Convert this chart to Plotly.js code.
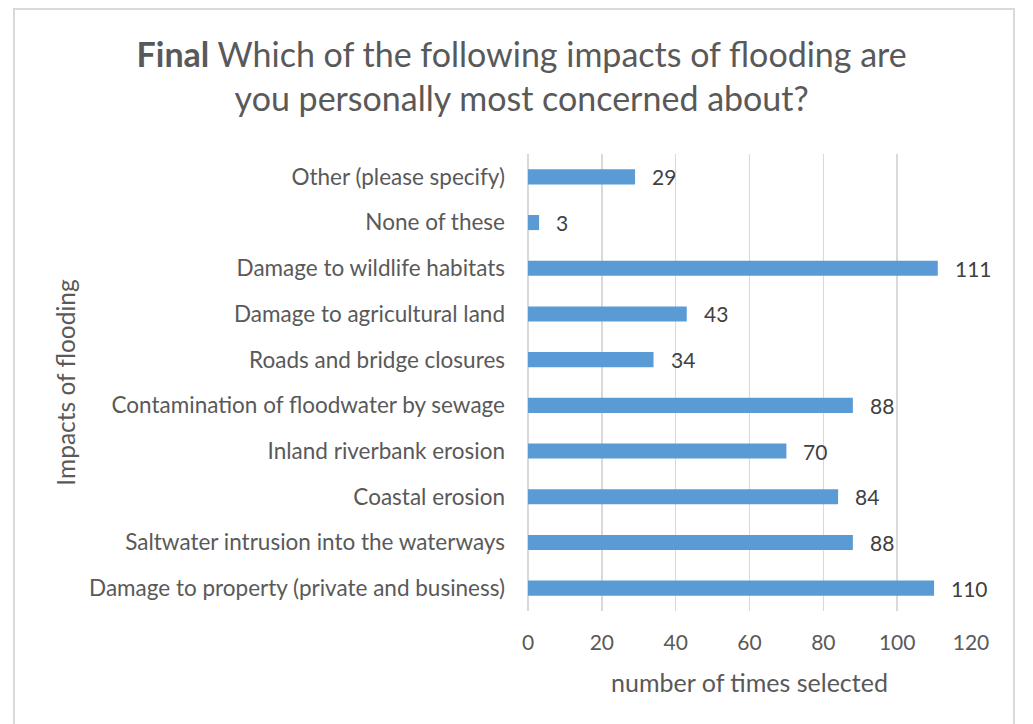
<!DOCTYPE html>
<html>
<head>
<meta charset="utf-8">
<script src="https://cdn.plot.ly/plotly-3.0.1.min.js"></script>
<style>html,body{margin:0;padding:0;background:#fff;}#chart{width:1033px;height:724px;}</style>
</head>
<body>
<div id="chart"></div>
<script>
// Data (bottom to top, as drawn)
const categories = [
  "Damage to property (private and business)",
  "Saltwater intrusion into the waterways",
  "Coastal erosion",
  "Inland riverbank erosion",
  "Contamination of floodwater by sewage",
  "Roads and bridge closures",
  "Damage to agricultural land",
  "Damage to wildlife habitats",
  "None of these",
  "Other (please specify)"
];
const counts = [110, 88, 84, 70, 88, 34, 43, 111, 3, 29];
const xTickValues = [0, 20, 40, 60, 80, 100, 120];

const FONT = "Lato, 'Open Sans', sans-serif";
const GRAY = "#595959";

const trace = {
  type: "bar",
  orientation: "h",
  x: counts,
  y: categories,
  marker: { color: "#5B9BD5" },
  width: 0.33,
  hoverinfo: "x+y"
};

const annotations = counts.map((v, i) => ({
  x: v, y: categories[i], xref: "x", yref: "y",
  text: String(v), showarrow: false,
  xanchor: "left", yanchor: "middle", xshift: 15,
  font: { family: FONT, size: 21, color: "#404040" }
}));

const layout = {
  width: 1033, height: 724,
  margin: { l: 528, r: 62, t: 154, b: 113 },
  paper_bgcolor: "#fff", plot_bgcolor: "#fff",
  showlegend: false,
  font: { family: FONT, color: GRAY },
  title: {
    text: "<b>Final</b> Which of the following impacts of flooding are<br>you personally most concerned about?",
    font: { family: FONT, size: 34, color: GRAY },
    x: 0.505, xref: "container", xanchor: "center",
    y: 1 - 67 / 724, yref: "container", yanchor: "middle"
  },
  xaxis: {
    range: [0, 120],
    tickvals: xTickValues,
    ticktext: xTickValues.map(String),
    showgrid: true, gridcolor: "#d9d9d9", gridwidth: 1.5,
    zeroline: true, zerolinecolor: "#d9d9d9", zerolinewidth: 1.5,
    showline: false, ticks: "",
    ticklabelstandoff: 17,
    tickfont: { family: FONT, size: 21, color: GRAY },
    title: { text: "number of times selected", font: { family: FONT, size: 25, color: GRAY }, standoff: 21 },
    fixedrange: true
  },
  yaxis: {
    type: "category",
    categoryorder: "array", categoryarray: categories,
    showgrid: false, zeroline: false, showline: false, ticks: "",
    ticklabelstandoff: 22,
    tickfont: { family: FONT, size: 22.5, color: GRAY },
    title: { text: "Impacts of flooding", font: { family: FONT, size: 24.5, color: GRAY }, standoff: 6 },
    fixedrange: true
  },
  annotations: annotations,
  shapes: [{
    type: "rect", xref: "paper", yref: "paper",
    x0: (14 - 528) / 443, x1: (1014 - 528) / 443,
    y0: (611 - 760) / 457, y1: (611 - 9) / 457,
    line: { color: "#d9d9d9", width: 2 }, fillcolor: "rgba(0,0,0,0)", layer: "below"
  }]
};

Plotly.newPlot("chart", [trace], layout, { displayModeBar: false, staticPlot: true });
</script>
</body>
</html>
